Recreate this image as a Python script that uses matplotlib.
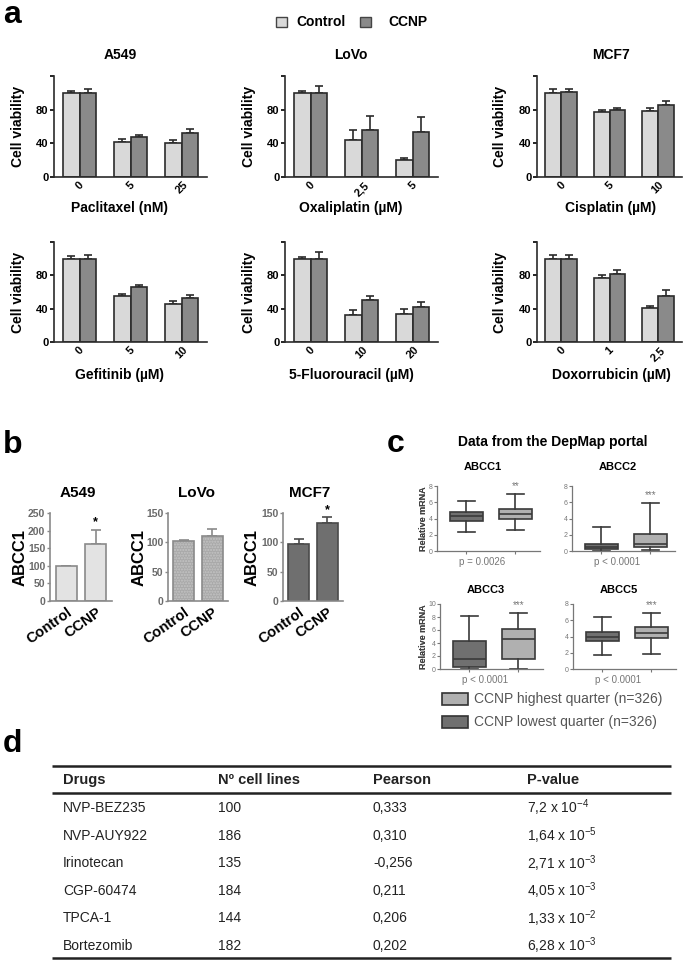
import numpy as np
import matplotlib
matplotlib.use("Agg")
import matplotlib.pyplot as plt
import matplotlib.transforms as mtransforms
from matplotlib.patches import Rectangle

plt.rcParams["font.family"] = ["Liberation Sans", "DejaVu Sans"]
plt.rcParams["mathtext.default"] = "regular"

# ---- panel a: cell viability ----
a_cells = ["A549", "LoVo", "MCF7"]
a_drugs = ["Paclitaxel (nM)", "Oxaliplatin (µM)", "Cisplatin (µM)",
           "Gefitinib (µM)", "5-Fluorouracil (µM)", "Doxorrubicin (µM)"]
a_doses = [["0", "5", "25"], ["0", "2,5", "5"], ["0", "5", "10"],
           ["0", "5", "10"], ["0", "10", "20"], ["0", "1", "2,5"]]
ctrl_mean = [[100, 42, 40], [100, 44, 20], [100, 77, 79],
             [100, 55, 46], [100, 33, 34], [100, 76.5, 41]]
ctrl_err = [[2, 3, 4], [2, 12, 3], [5, 2.5, 3],
            [3, 3, 3.5], [2, 5.5, 6], [5, 4, 2.5]]
ccnp_mean = [[100, 48, 52], [100, 56, 53], [101, 79.5, 86],
             [100, 66, 53], [100, 50, 42.5], [100, 82, 55]]
ccnp_err = [[4, 2, 5], [8, 16, 18], [4, 2.5, 4],
            [4, 2.5, 3.5], [8.5, 5, 5], [4.5, 5, 7]]

# ---- panel b: ABCC1 protein ----
b_cells = ["A549", "LoVo", "MCF7"]
b_groups = ["Control", "CCNP"]
b_mean = [[100, 162], [102, 111], [98, 133]]
b_err = [[0.5, 40], [2, 12], [7, 10]]
b_ymax = [250, 150, 150]
b_sig = [["", "*"], ["", ""], ["", "*"]]

# ---- panel c: DepMap box plots (whislo, q1, med, q3, whishi) ----
c_genes = ["ABCC1", "ABCC2", "ABCC3", "ABCC5"]
c_ptext = ["p = 0.0026", "p < 0.0001", "p < 0.0001", "p < 0.0001"]
c_stars = ["**", "***", "***", "***"]
c_ymax = [8, 8, 10, 8]
low_quarter = [[2.3, 3.7, 4.3, 4.85, 6.2], [0.05, 0.25, 0.55, 0.85, 2.9],
               [0.05, 0.3, 1.5, 4.3, 8.2], [1.7, 3.4, 3.9, 4.6, 6.4]]
high_quarter = [[2.6, 3.9, 4.5, 5.2, 7.0], [0.1, 0.45, 0.9, 2.15, 5.95],
                [0.05, 1.5, 4.6, 6.1, 8.6], [1.9, 3.8, 4.4, 5.2, 6.85]]

# ---- panel d: table ----
d_header = ["Drugs", "Nº cell lines", "Pearson", "P-value"]
d_drugs = ["NVP-BEZ235", "NVP-AUY922", "Irinotecan", "CGP-60474", "TPCA-1", "Bortezomib"]
d_lines = [100, 186, 135, 184, 144, 182]
d_pearson = ["0,333", "0,310", "-0,256", "0,211", "0,206", "0,202"]
d_pmant = ["7,2", "1,64", "2,71", "4,05", "1,33", "6,28"]
d_pexp = [-4, -5, -3, -3, -2, -3]

W, H = 685, 960
fig = plt.figure(figsize=(W / 100, H / 100), dpi=100)


def add_ax(x0, y0, x1, y1):
    ax = fig.add_axes([x0 / W, 1 - y1 / H, (x1 - x0) / W, (y1 - y0) / H])
    ax.set_facecolor("none")
    return ax


ctrl_col, ccnp_col, edge = "#d9d9d9", "#8a8a8a", "#2b2b2b"
a_x = [(54, 207), (285, 438), (537, 682)]
a_y = [(76, 177), (242, 342)]
a_title_x = [120, 351, 611]
a_ylab_x = [25, 256, 507]
w = 0.33
texts = []  # (x, y, s, kwargs) in pixel coords, drawn on overlay

for i in range(6):
    r, c = divmod(i, 3)
    ax = add_ax(a_x[c][0], a_y[r][0], a_x[c][1], a_y[r][1])
    pos = np.arange(3)
    ax.bar(pos - w / 2, ctrl_mean[i], w, color=ctrl_col, edgecolor=edge, lw=1.2, zorder=2)
    ax.bar(pos + w / 2, ccnp_mean[i], w, color=ccnp_col, edgecolor=edge, lw=1.2, zorder=2)
    ax.errorbar(pos - w / 2, ctrl_mean[i], yerr=[np.zeros(3), ctrl_err[i]], fmt="none",
                ecolor=edge, elinewidth=1.2, capsize=3, capthick=1.2, zorder=1)
    ax.errorbar(pos + w / 2, ccnp_mean[i], yerr=[np.zeros(3), ccnp_err[i]], fmt="none",
                ecolor=edge, elinewidth=1.2, capsize=3, capthick=1.2, zorder=1)
    ax.set_xlim(-0.5, 2.5)
    ax.set_ylim(0, 120)
    ax.set_yticks([0, 40, 80, 120])
    ax.set_yticklabels(["0", "40", "80", ""], fontweight="bold", fontsize=8)
    ax.set_xticks(pos)
    ax.set_xticklabels(a_doses[i], rotation=45, fontweight="bold", fontsize=8, ha="center")
    shift = mtransforms.ScaledTranslation(0.05, 0, fig.dpi_scale_trans)
    for lab in ax.get_xticklabels():
        lab.set_transform(lab.get_transform() + shift)
    ax.tick_params(axis="x", length=0, pad=2)
    ax.tick_params(axis="y", length=3, width=1.2, pad=1)
    for s in ["top", "right"]:
        ax.spines[s].set_visible(False)
    for s in ["left", "bottom"]:
        ax.spines[s].set_linewidth(1.2)
        ax.spines[s].set_color(edge)
    ax.set_ylabel("Cell viability", fontsize=10, fontweight="bold")
    ax.yaxis.set_label_coords(-(a_x[c][0] - a_ylab_x[c]) / (a_x[c][1] - a_x[c][0]), 0.5)
    if r == 0:
        texts.append((a_title_x[c], 55, a_cells[c], dict(fontsize=10, fontweight="bold")))
    texts.append((a_title_x[c], 208 + r * 167, a_drugs[i], dict(fontsize=10, fontweight="bold")))

# panel b
b_x = [(50, 112), (168, 228), (283, 343)]
b_y = (513, 601)
b_title_x = [78, 197, 310]
b_ylab_x = [28, 147, 260]
b_face = ["#e3e3e3", "#a9a9a9", "#6f6f6f"]
b_edge = ["#8a8a8a", "#8a8a8a", "#4a4a4a"]
for k in range(3):
    ax = add_ax(b_x[k][0], b_y[0], b_x[k][1], b_y[1])
    pos = np.arange(2)
    if k == 1:
        ax.bar(pos, b_mean[k], 0.72, color=b_face[k], edgecolor="#c4c4c4", hatch="......", lw=0, zorder=2)
        ax.bar(pos, b_mean[k], 0.72, color="none", edgecolor=b_edge[k], lw=1.2, zorder=3)
    else:
        ax.bar(pos, b_mean[k], 0.72, color=b_face[k], edgecolor=b_edge[k], lw=1.2, zorder=2)
    ax.errorbar(pos, b_mean[k], yerr=[np.zeros(2), b_err[k]], fmt="none", ecolor=b_edge[k],
                elinewidth=1.2, capsize=3.5, capthick=1.2, zorder=1)
    for j in range(2):
        if b_sig[k][j]:
            ax.annotate(b_sig[k][j], (pos[j], b_mean[k][j] + b_err[k][j]), xytext=(0, 1),
                        textcoords="offset points", ha="center", va="bottom",
                        fontsize=9, fontweight="bold")
    ax.set_xlim(-0.55, 1.55)
    ax.set_ylim(0, b_ymax[k])
    ax.set_yticks(np.arange(0, b_ymax[k] + 1, 50))
    ax.tick_params(axis="y", length=2.5, width=1, labelsize=7.5, labelcolor="#6a6a6a", color="#8a8a8a", pad=1)
    for lab in ax.get_yticklabels():
        lab.set_fontweight("bold")
    ax.set_xticks(pos)
    ax.set_xticklabels(b_groups, rotation=35, ha="right", rotation_mode="anchor",
                       fontsize=10.5, fontweight="bold")
    ax.tick_params(axis="x", length=0, pad=3)
    for s in ["top", "right"]:
        ax.spines[s].set_visible(False)
    for s in ["left", "bottom"]:
        ax.spines[s].set_linewidth(1.2)
        ax.spines[s].set_color("#8a8a8a")
    ax.set_ylabel("ABCC1", fontsize=12, fontweight="bold")
    ax.yaxis.set_label_coords(-(b_x[k][0] - b_ylab_x[k]) / (b_x[k][1] - b_x[k][0]), 0.5)
    texts.append((b_title_x[k], 493, b_cells[k], dict(fontsize=11, fontweight="bold")))

# panel c
c_x = [(437, 540), (572, 675), (440, 543), (573, 676)]
c_y = [(486, 551), (486, 551), (604, 669), (604, 669)]
c_title_y = [467, 467, 590, 590]
dark_box, light_box, box_edge = "#707070", "#b0b0b0", "#3a3a3a"
for k in range(4):
    ax = add_ax(c_x[k][0], c_y[k][0], c_x[k][1], c_y[k][1])
    stats = []
    for q in (low_quarter[k], high_quarter[k]):
        stats.append(dict(whislo=q[0], q1=q[1], med=q[2], q3=q[3], whishi=q[4], fliers=[]))
    line = dict(color=box_edge, lw=1.2)
    bp = ax.bxp(stats, positions=[1, 2], widths=0.67, patch_artist=True, showfliers=False,
                capwidths=0.33, boxprops=dict(edgecolor=box_edge, lw=1.2),
                medianprops=line, whiskerprops=line, capprops=line)
    bp["boxes"][0].set_facecolor(dark_box)
    bp["boxes"][1].set_facecolor(light_box)
    ax.annotate(c_stars[k], (2, high_quarter[k][4]), xytext=(0, 2), textcoords="offset points",
                ha="center", va="bottom", fontsize=7, color="#777777")
    ax.set_xlim(0.4, 2.5)
    ax.set_ylim(0, c_ymax[k])
    ax.set_yticks(np.arange(0, c_ymax[k] + 1, 2))
    ax.set_xticks([1, 2])
    ax.set_xticklabels(["", ""])
    ax.tick_params(length=2, width=0.8, color="#777777", labelsize=5, labelcolor="#777777", pad=1)
    for s in ["top", "right"]:
        ax.spines[s].set_visible(False)
    for s in ["left", "bottom"]:
        ax.spines[s].set_linewidth(0.9)
        ax.spines[s].set_color("#777777")
    ax.set_ylabel("Relative mRNA", fontsize=6.5, fontweight="bold", color="#444444")
    ax.yaxis.set_label_coords(-(c_x[k][0] - 428) / (c_x[k][1] - c_x[k][0]), 0.5)
    cx = (c_x[k][0] + c_x[k][1]) / 2 + 2
    texts.append((cx - 8, c_title_y[k], c_genes[k], dict(fontsize=8, fontweight="bold")))
    texts.append((cx - 8, c_y[k][1] + 11, c_ptext[k], dict(fontsize=7, color="#777777")))

# overlay for labels, legends and table (pixel coordinates)
ov = fig.add_axes([0, 0, 1, 1])
ov.set_xlim(0, W)
ov.set_ylim(H, 0)
ov.axis("off")

for x, y, s, kw in texts:
    ov.text(x, y, s, ha="center", va="center", **kw)

for lab, x, y in [("a", 3, 23), ("b", 3, 453), ("c", 387, 452), ("d", 3, 752)]:
    ov.text(x, y, lab, fontsize=23, fontweight="bold", ha="left", va="baseline")

# panel a legend
ov.add_patch(Rectangle((276, 17), 11, 10, facecolor=ctrl_col, edgecolor="#444444", lw=1))
ov.text(296, 22, "Control", fontsize=10, fontweight="bold", va="center")
ov.add_patch(Rectangle((360, 17), 11, 10, facecolor=ccnp_col, edgecolor="#444444", lw=1))
ov.text(388, 22, "CCNP", fontsize=10, fontweight="bold", va="center")

# panel c title and legend
ov.text(553, 442, "Data from the DepMap portal", fontsize=10, fontweight="bold", ha="center", va="center")
ov.add_patch(Rectangle((442, 693), 26, 12, facecolor=light_box, edgecolor="#333333", lw=1.2))
ov.text(474, 699, "CCNP highest quarter (n=326)", fontsize=10, color="#555555", va="center")
ov.add_patch(Rectangle((442, 716), 26, 12, facecolor=dark_box, edgecolor="#333333", lw=1.2))
ov.text(474, 722, "CCNP lowest quarter (n=326)", fontsize=10, color="#555555", va="center")

# panel d table
col_x = [63, 218, 373, 527]
ov.hlines([766, 793, 958], 52, 671, color="#222222", lw=1.8)
for j, hdr in enumerate(d_header):
    ov.text(col_x[j], 780, hdr, fontsize=10.5, fontweight="bold", va="center", color="#222222")
for i in range(len(d_drugs)):
    y = 808 + i * 27.6
    row = [d_drugs[i], str(d_lines[i]), d_pearson[i],
           f"{d_pmant[i]} x 10$^{{{d_pexp[i]}}}$"]
    for j, val in enumerate(row):
        ov.text(col_x[j], y, val, fontsize=10, va="center", color="#222222")

fig.savefig("out.png", dpi=100)
